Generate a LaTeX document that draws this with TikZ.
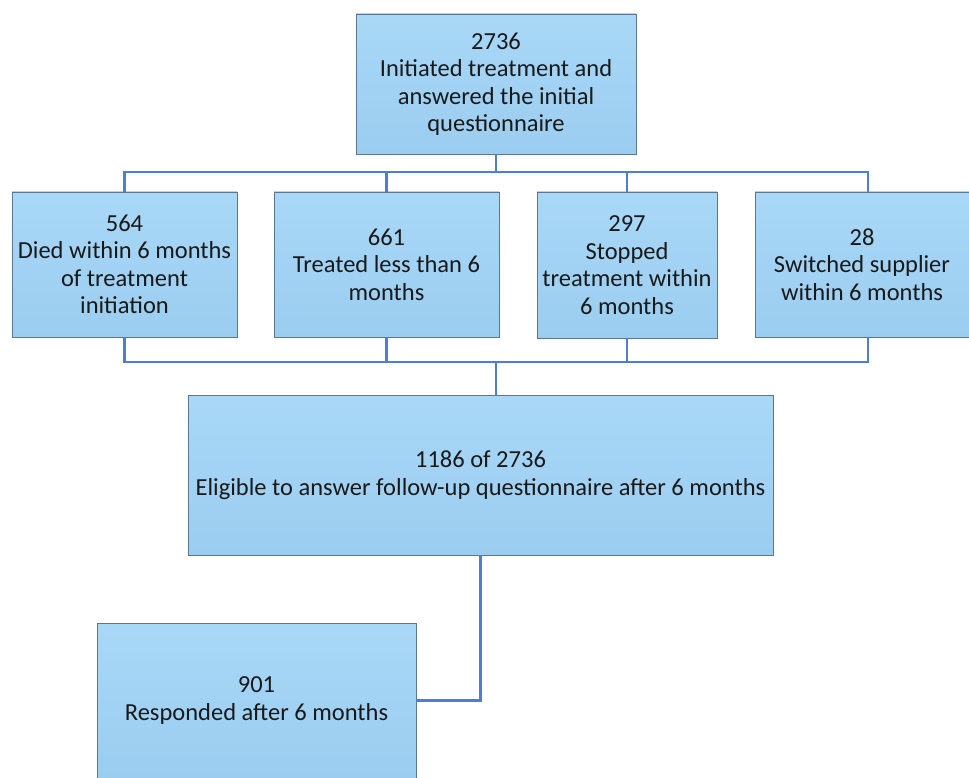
\documentclass[tikz,border=0pt]{standalone}
\usepackage{fontspec}
\setmainfont{Carlito}
\definecolor{boxtop}{HTML}{A9D8F7}
\definecolor{boxbot}{HTML}{9BCDF0}
\definecolor{boxedge}{HTML}{5A7896}
\definecolor{linkc}{HTML}{4A7FD2}
\begin{document}
\begin{tikzpicture}[x=1pt,y=1pt,
  box/.style={draw=boxedge, line width=0.8pt, top color=boxtop, bottom color=boxbot,
    rectangle, inner sep=0pt, align=center, text=black!90,
    font=\fontsize{24.5}{27.5}\selectfont},
  link/.style={draw=linkc, line width=2.2pt}]
\useasboundingbox (0,0) rectangle (969,-778);
\node[box, minimum width=280, minimum height=140] (top) at (496,-84)
  {2736\\Initiated treatment and\\answered the initial\\questionnaire};
\node[box, minimum width=225, minimum height=145] (b1) at (124.5,-264.5)
  {564\\Died within 6 months\\of treatment\\initiation};
\node[box, minimum width=225, minimum height=145] (b2) at (386.5,-264.5)
  {661\\Treated less than 6\\months};
\node[box, minimum width=180, minimum height=146] (b3) at (627,-265)
  {297\\Stopped\\treatment within\\6 months};
\node[box, minimum width=214, minimum height=145] (b4) at (862,-264.5)
  {28\\Switched supplier\\within 6 months};
\node[box, minimum width=585, minimum height=160] (mid) at (480.5,-475)
  {1186 of 2736\\Eligible to answer follow-up questionnaire after 6 months};
\node[box, minimum width=319, minimum height=155] (bot) at (256.5,-700.5)
  {901\\Responded after 6 months};
\coordinate (j1) at (496,-172);
\coordinate (j2) at (496,-362);
\coordinate (b4t) at (868,-192);
\coordinate (b4b) at (868,-337);
\draw[link] (top.south) -- (j1);
\draw[link] (b1.north) |- (j1);
\draw[link] (b2.north) -- (b2.north |- j1);
\draw[link] (b3.north) -- (b3.north |- j1);
\draw[link] (b4t) |- (j1);
\draw[link] (b1.south) |- (j2);
\draw[link] (b2.south) -- (b2.south |- j2);
\draw[link] (b3.south) -- (b3.south |- j2);
\draw[link] (b4b) |- (j2);
\draw[link] (j2) -- (j2 |- mid.north);
\draw[link] (mid.south) |- (bot.east);
\end{tikzpicture}
\end{document}
